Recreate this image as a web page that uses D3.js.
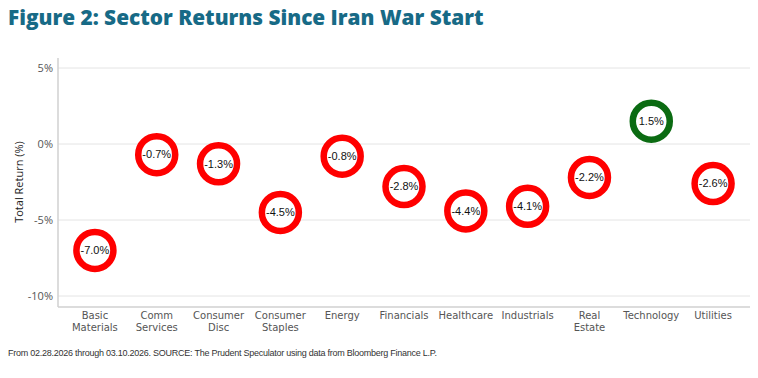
<!DOCTYPE html>
<html>
<head>
<meta charset="utf-8">
<script src="https://cdn.jsdelivr.net/npm/d3@7"></script>
<style>
  body { margin: 0; background: #fff; }
  svg { display: block; }
</style>
</head>
<body>
<svg id="chart" width="758" height="378"></svg>
<script>
var sectors = [["Basic", "Materials"], ["Comm", "Services"], ["Consumer", "Disc"], ["Consumer", "Staples"],
  ["Energy"], ["Financials"], ["Healthcare"], ["Industrials"], ["Real", "Estate"], ["Technology"], ["Utilities"]];
var returns = [-7.0, -0.7, -1.3, -4.5, -0.8, -2.8, -4.4, -4.1, -2.2, 1.5, -2.6];
var yTicks = [5, 0, -5, -10];

var svg = d3.select("#chart"),
  margin = {top: 58, right: 8, bottom: 71, left: 58},
  width = 758 - margin.left - margin.right,
  height = 378 - margin.top - margin.bottom;

svg.append("text")
  .attr("x", 8).attr("y", 25)
  .attr("fill", "#176a86")
  .style("font", "800 20.8px 'Open Sans', sans-serif")
  .text("Figure 2: Sector Returns Since Iran War Start");

var g = svg.append("g").attr("transform", "translate(" + margin.left + "," + margin.top + ")");

var x = d3.scaleBand()
  .domain(d3.range(sectors.length))
  .range([6, 686]);

var y = d3.scaleLinear()
  .domain([-10, 5])
  .range([238, 10]);

// gridlines
g.selectAll(".grid").data(yTicks).enter().append("line")
  .attr("x1", 0).attr("x2", width)
  .attr("y1", function(d) { return y(d); })
  .attr("y2", function(d) { return y(d); })
  .attr("stroke", "#e4e4e4").attr("stroke-width", 1);

var yAxis = g.append("g")
  .call(d3.axisLeft(y).tickValues(yTicks).tickSize(0).tickPadding(5).tickFormat(function(d) { return d + "%"; }));
yAxis.select(".domain").remove();
yAxis.selectAll("text").attr("fill", "#555").style("font", "11px 'Open Sans', sans-serif");

g.append("line").attr("x1", 0).attr("x2", 0).attr("y1", 0).attr("y2", height)
  .attr("stroke", "#d0d0d0").attr("stroke-width", 1.5);
g.append("line").attr("x1", 0).attr("x2", width).attr("y1", height).attr("y2", height)
  .attr("stroke", "#d0d0d0").attr("stroke-width", 1.5);

svg.append("text")
  .attr("transform", "translate(23," + (margin.top + 124) + ") rotate(-90)")
  .attr("text-anchor", "middle")
  .attr("fill", "#222")
  .style("font", "11px 'Open Sans', sans-serif")
  .text("Total Return (%)");

// x labels, one text per line
sectors.forEach(function(lines, i) {
  lines.forEach(function(line, j) {
    g.append("text")
      .attr("text-anchor", "middle")
      .attr("fill", "#555")
      .style("font", "10px 'DejaVu Sans', sans-serif")
      .attr("x", x(i) + x.bandwidth() / 2)
      .attr("y", height + 12 + j * 12)
      .text(line);
  });
});

// circles
var pts = g.selectAll(".pt").data(returns).enter().append("g")
  .attr("transform", function(d, i) { return "translate(" + (x(i) + x.bandwidth() / 2) + "," + y(d) + ")"; });
pts.append("circle")
  .attr("r", 18.5)
  .attr("fill", "#fff")
  .attr("stroke", function(d) { return d >= 0 ? "#0b6b12" : "#ff0000"; })
  .attr("stroke-width", 6.5);
pts.append("text")
  .attr("text-anchor", "middle").attr("dy", "0.35em")
  .attr("fill", "#111")
  .style("font", "11px 'Liberation Sans', Arial, sans-serif")
  .text(function(d) { return d.toFixed(1) + "%"; });

svg.append("text")
  .attr("x", 8).attr("y", 356)
  .attr("fill", "#333")
  .style("font", "9px 'Liberation Sans Narrow', 'Liberation Sans', sans-serif")
  .style("letter-spacing", "-0.25px")
  .text("From 02.28.2026 through 03.10.2026. SOURCE: The Prudent Speculator using data from Bloomberg Finance L.P.");
</script>
</body>
</html>
